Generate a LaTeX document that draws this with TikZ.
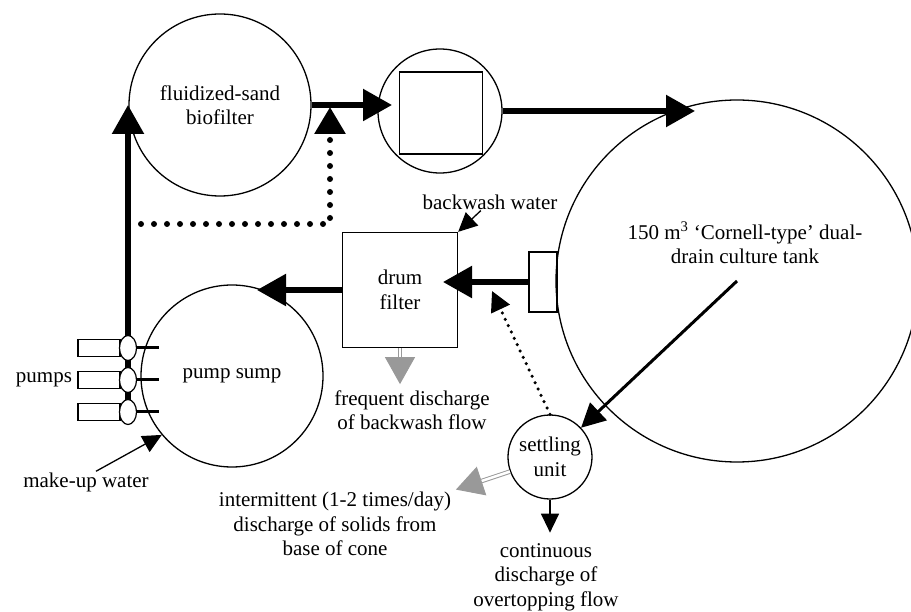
\documentclass[tikz,border=0pt]{standalone}
\usepackage{fontspec}
\setmainfont{Liberation Serif}
\usepackage{tikz}
\usetikzlibrary{arrows.meta,shapes.geometric}
\tikzset{
    Unit/.style = {draw,circle,line width=1.3pt,inner sep=0pt,align=center},
    Box/.style = {draw,rectangle,line width=1.3pt,inner sep=0pt,align=center},
    Lbl/.style = {align=center,inner sep=1pt},
    Flow/.style = {line width=5.5pt,-{Triangle[length=29pt,width=31pt]}},
    Thin/.style = {line width=1.3pt,-{Triangle[length=19pt,width=18pt]}},
    Dots/.style = {line width=6pt,line cap=round,dash pattern=on 0pt off 13pt,
         -{Triangle[length=27pt,width=30pt]}},
    Fine dots/.style = {line width=3.5pt,line cap=round,dash pattern=on 0pt off 7pt,
         -{Triangle[length=20pt,width=20pt]}},
    Waste/.style = {draw=black!40,double=white,double distance=2.5pt,line width=1pt,
         -{Triangle[length=27pt,width=30pt,fill=black!40]}}
}

\begin{document}
\begin{tikzpicture}[x=1pt,y=-1pt,font=\fontsize{21}{24.5}\selectfont]
        \clip (0,0) rectangle (911,612);
        \node[Unit,minimum size=182pt] (bio) at (220,105) {fluidized-sand\\biofilter};
        \node[Unit,minimum size=124pt] (scr) at (440,111) {};
        \node[Box,minimum width=83pt,minimum height=82pt] (scrbox) at (441,113) {};
        \node[Box,minimum width=28pt,minimum height=60pt] (outlet) at (543,282) {};
        \node[Unit,minimum size=362pt] (tank) at (737,281) {};
        \node[Lbl] (tanklbl) at (745,243) {150 m\textsuperscript{3} `Cornell-type' dual-\\drain culture tank};
        \node[Box,minimum size=115pt] (drum) at (400,290) {drum\\filter};
        \node[Unit,minimum size=182pt] (sump) at (232,376) {pump sump};
        \node[Unit,minimum size=84pt] (settle) at (550,457) {settling\\unit};
        \node[Lbl] (bwlbl) at (490,202) {backwash water};
        \node[Lbl] (pumpslbl) at (44,380) {pumps};
        \node[Lbl] (mklbl) at (86,482) {make-up water};
        \node[Lbl] (freqlbl) at (412,410) {frequent discharge\\of backwash flow};
        \node[Lbl] (intlbl) at (335,524) {intermittent (1-2 times/day)\\discharge of solids from\\base of cone};
        \node[Lbl] (contlbl) at (546,577) {continuous\\discharge of\\overtopping flow};
        \coordinate (pbase) at (128,412);
        \coordinate (tee) at (330,107);
        \coordinate (scrin) at (392,105);
        \coordinate (tankin) at (695,111);
        \coordinate (drumin) at (443,282);
        \coordinate (drumtap) at (492,291);
        \coordinate (sumpin) at (257,290);
        \draw[Flow] (pbase) -- (pbase |- bio.west);
        \foreach \Y [count=\i] in {348,380,412}
            {\node[Box,line width=1.2pt,minimum width=42pt,minimum height=17pt] (pr\i) at (99,\Y) {};
             \node[draw,ellipse,line width=1.2pt,fill=white,minimum width=17pt,minimum height=25pt,inner sep=0pt] (pe\i) at (128,\Y) {};
             \draw[line width=3pt] (pe\i.east) -- ++(22,0);}
        \draw[Flow] (bio.east) -- (scrin);
        \draw[Flow] (scr.east) -- (tankin);
        \draw[Flow] (outlet.west) -- (drumin);
        \draw[Flow] (drum.west) -- (sumpin);
        \draw[Dots] (pbase |- 0,224) -| (tee);
        \draw[Fine dots] (settle.north) -- (drumtap);
        \draw[line width=3pt,-{Triangle[length=24pt,width=24pt]}] (tank.center) -- (settle);
        \draw[Thin] (settle.south) -- ++(0,33);
        \draw[Waste] (drum.south) -- ++(0,36);
        \draw[Waste] (settle.200) -- ++(-54,18);
        \draw[Thin] (bwlbl) -- (drum.north east);
        \draw[Thin] ([xshift=10pt]mklbl.north) -- (sump.220);
\end{tikzpicture}
\end{document}
